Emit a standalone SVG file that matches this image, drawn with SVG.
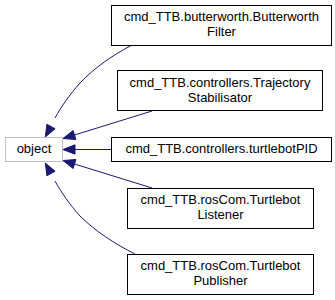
<svg xmlns="http://www.w3.org/2000/svg" width="335" height="300" viewBox="0 0 335 300">
  <style>
    .node rect { fill: #ffffff; stroke: #000000; stroke-width: 1; }
    .node.base rect { stroke: #bfbfbf; }
    .node text { font-family: "Liberation Sans", Arial, Helvetica, sans-serif; font-size: 13px; fill: #000000; text-anchor: middle; }
    .edge path { fill: none; stroke: #191970; stroke-width: 1; }
    .edge polygon { fill: #191970; stroke: #191970; stroke-width: 1; }
  </style>
  <rect x="0" y="0" width="335" height="300" fill="#ffffff"/>

  <!-- inheritance connectors: each derived class points to object -->
  <g id="edges" class="edge">
    <path d="M132,45 C113,55 94,68 80,83 C70,94 61,107 55,118"/>
    <polygon points="46.9,124.25 55.1,128.75 45.3,137"/>

    <path d="M152,111 L74.5,135"/>
    <polygon points="73.1,130.5 75.9,139.5 63,138.5"/>

    <path d="M111,149.5 L75,149.5"/>
    <polygon points="75,144.8 75,154.2 63,149.5"/>

    <path d="M152,188 L74.5,164"/>
    <polygon points="75.9,159.5 73.1,168.5 63,160.5"/>

    <path d="M135,254 C115,244 95,231 80,216 C70,205 61,192 55,181"/>
    <polygon points="55.1,171.25 46.9,175.75 45.3,163"/>
  </g>

  <g id="node-object" class="node base">
    <rect x="5.5" y="137.5" width="57" height="24"/>
    <text x="34" y="153">object</text>
  </g>

  <g id="node-butterworth" class="node">
    <rect x="111.5" y="5.5" width="220" height="40"/>
    <text x="221.5" y="21.25">cmd_TTB.butterworth.Butterworth</text>
    <text x="221.5" y="35.75">Filter</text>
  </g>

  <g id="node-trajectory" class="node">
    <rect x="117.5" y="70.5" width="205" height="40"/>
    <text x="220" y="87.25">cmd_TTB.controllers.Trajectory</text>
    <text x="220" y="101.75">Stabilisator</text>
  </g>

  <g id="node-turtlebotpid" class="node">
    <rect x="111.5" y="137.5" width="220" height="24"/>
    <text x="221.5" y="153">cmd_TTB.controllers.turtlebotPID</text>
  </g>

  <g id="node-listener" class="node">
    <rect x="127.5" y="188.5" width="186" height="40"/>
    <text x="220.5" y="204.25">cmd_TTB.rosCom.Turtlebot</text>
    <text x="220.5" y="218.75">Listener</text>
  </g>

  <g id="node-publisher" class="node">
    <rect x="127.5" y="254.5" width="186" height="40"/>
    <text x="220.5" y="270.25">cmd_TTB.rosCom.Turtlebot</text>
    <text x="220.5" y="284.75">Publisher</text>
  </g>
</svg>
